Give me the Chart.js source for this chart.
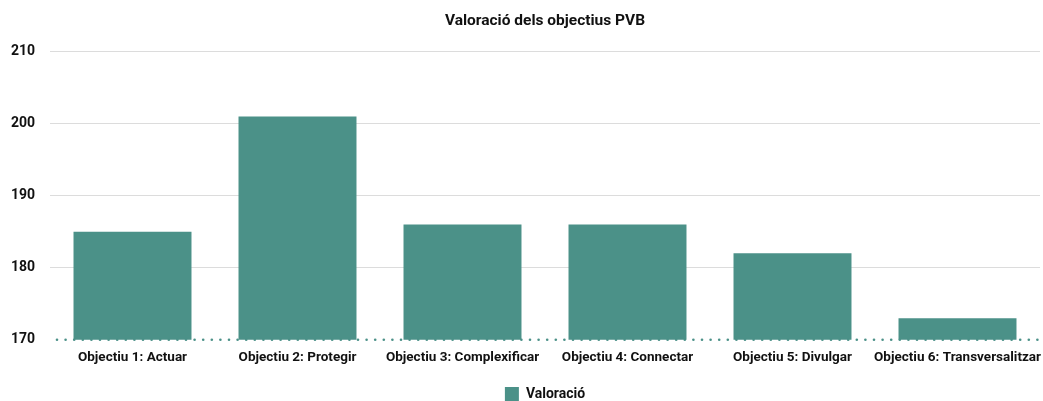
<!DOCTYPE html>
<html>
<head>
<meta charset="utf-8">
<script src="https://cdn.jsdelivr.net/npm/chart.js@4"></script>
<style>
    html, body { margin: 0; padding: 0; background: #fff; }
    #wrap { width: 1043px; height: 401px; }
</style>
</head>
<body>
<div id="wrap"><canvas id="valoracioChart"></canvas></div>
<script>
// Chart data
const categories = [
    'Objectiu 1: Actuar',
    'Objectiu 2: Protegir',
    'Objectiu 3: Complexificar',
    'Objectiu 4: Connectar',
    'Objectiu 5: Divulgar',
    'Objectiu 6: Transversalitzar'
];
const valoracio = [185, 201, 186, 186, 182, 173];
const yTicks = [170, 180, 190, 200, 210];

const teal = '#4b9188';

// Dotted baseline at the bottom of the value axis
const dottedBaseline = {
    id: 'dottedBaseline',
    afterDatasetsDraw(chart) {
        const { ctx, chartArea, scales } = chart;
        const y = scales.y.getPixelForValue(yTicks[0]);
        ctx.save();
        ctx.fillStyle = teal;
        for (let x = chartArea.left + 7; x <= chartArea.right + 1; x += 8.6) {
            ctx.beginPath();
            ctx.arc(x, y, 1.3, 0, Math.PI * 2);
            ctx.fill();
        }
        ctx.restore();
    }
};

document.addEventListener('DOMContentLoaded', function() {
    const ctx = document.getElementById('valoracioChart').getContext('2d');
    new Chart(ctx, {
        type: 'bar',
        data: {
            labels: categories,
            datasets: [{
                label: 'Valoració',
                data: valoracio,
                backgroundColor: teal,
                borderWidth: 0,
                categoryPercentage: 0.715,
                barPercentage: 1
            }]
        },
        options: {
            responsive: true,
            maintainAspectRatio: false,
            animation: false,
            layout: {
                padding: { left: 4, right: 3, top: 0, bottom: -10 }
            },
            scales: {
                y: {
                    min: yTicks[0],
                    max: yTicks[yTicks.length - 1],
                    afterBuildTicks: function(axis) {
                        axis.ticks = yTicks.map(v => ({ value: v }));
                    },
                    afterFit: function(scale) {
                        scale.width = 46;
                    },
                    border: { display: false },
                    grid: {
                        color: c => c.tick.value === yTicks[0] ? 'rgba(0,0,0,0)' : '#dcdcdc',
                        lineWidth: 1,
                        drawTicks: false
                    },
                    ticks: {
                        padding: 15,
                        color: '#111',
                        font: { family: 'Roboto', size: 14, weight: 'bold' }
                    }
                },
                x: {
                    afterFit: function(scale) {
                        scale.height += 10;
                        // let the last label run to the canvas edge like the original
                        scale.paddingLeft = 0;
                        scale.paddingRight = 0;
                    },
                    border: { display: false },
                    grid: { display: false, drawTicks: false },
                    ticks: {
                        padding: 10,
                        color: '#111',
                        maxRotation: 0,
                        autoSkip: false,
                        font: { family: 'Roboto', size: 13.5, weight: 'bold' }
                    }
                }
            },
            plugins: {
                title: {
                    display: true,
                    fullSize: false,
                    text: 'Valoració dels objectius PVB',
                    color: '#111',
                    font: { family: 'Roboto', size: 15.5, weight: 'bold' },
                    padding: { top: 12, bottom: 21 }
                },
                legend: {
                    position: 'bottom',
                    fullSize: false,
                    labels: {
                        boxWidth: 14,
                        boxHeight: 14,
                        color: '#111',
                        padding: 1,
                        font: { family: 'Roboto', size: 14, weight: 'bold' }
                    }
                },
                tooltip: { enabled: false }
            }
        },
        plugins: [dottedBaseline]
    });
});
</script>
</body>
</html>
